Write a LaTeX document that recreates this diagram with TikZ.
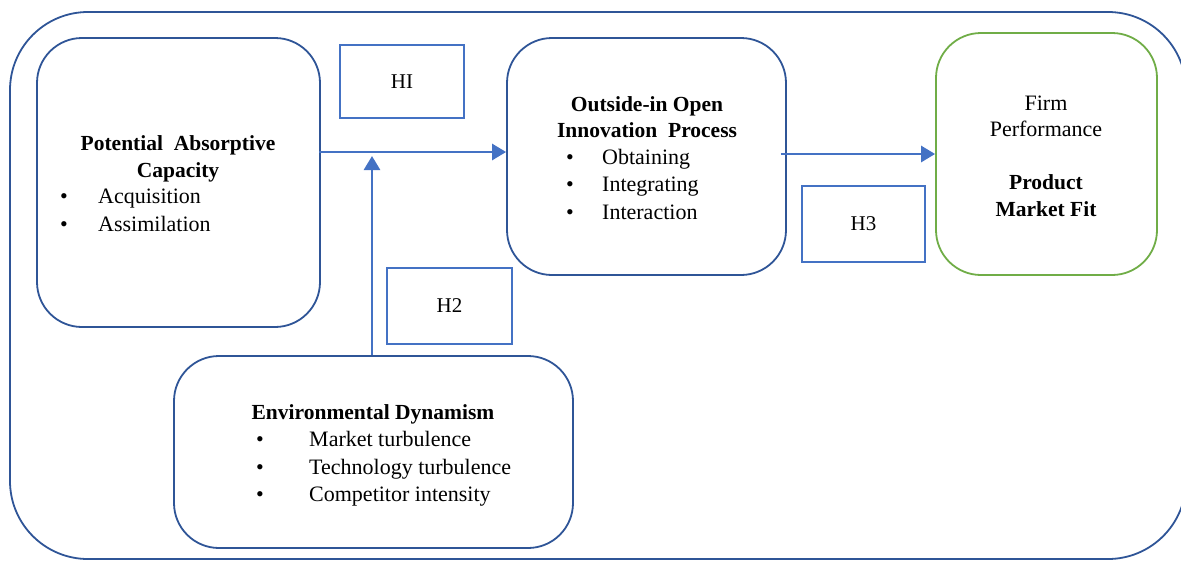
\documentclass[tikz,border=0pt]{standalone}
\usepackage{fontspec}
\setmainfont{Liberation Serif}
\usetikzlibrary{arrows.meta}
\definecolor{bl}{RGB}{68,114,196}
\definecolor{dbl}{RGB}{47,85,151}
\definecolor{gr}{RGB}{112,173,71}
\tikzset{
  bigbox/.style={draw=dbl, line width=1.8pt, rounded corners=45pt, inner sep=0pt},
  greenbox/.style={draw=gr, line width=1.8pt, rounded corners=45pt, inner sep=0pt},
  hbox/.style={draw=bl, line width=1.8pt, inner sep=0pt, font=\fontsize{21}{26}\selectfont},
  txt/.style={anchor=base, inner sep=0pt, font=\fontsize{22}{27}\selectfont},
  btxt/.style={txt, font=\fontsize{21.5}{27}\selectfont\bfseries},
  ltxt/.style={txt, anchor=base west},
  bul/.style={txt},
  arr/.style={draw=bl, line width=2.8pt, -{Triangle[length=14pt,width=16pt]}}
}
\begin{document}
\begin{tikzpicture}[x=1pt,y=-1pt]
\useasboundingbox (0,0) rectangle (1181,560);
% outer frame
\draw[dbl, line width=1.8pt, rounded corners=78pt] (10,12) rectangle (1186,559);

% boxes
\node[bigbox, minimum width=283pt, minimum height=289pt] (pac) at (178.5,182.5) {};
\node[bigbox, minimum width=279pt, minimum height=237pt] (oip) at (646.5,156.5) {};
\node[greenbox, minimum width=221pt, minimum height=242pt] (fp) at (1046.5,154) {};
\node[bigbox, minimum width=399pt, minimum height=192pt] (ed) at (373.5,452) {};
\node[hbox, minimum width=124pt, minimum height=73pt] (h1) at (402,81.5) {HI};
\node[hbox, minimum width=125pt, minimum height=76pt] (h2) at (449.5,306) {H2};
\node[hbox, minimum width=123pt, minimum height=76pt] (h3) at (863.5,224) {H3};

% PAC text
\node[btxt] (pac1) at (178,150) {Potential\ \ Absorptive};
\node[btxt] (pac2) at (178,177) {Capacity};
\node[bul] (pacb1) at (64,203) {\textbullet};
\node[ltxt] (pact1) at (98,203) {Acquisition};
\node[bul] (pacb2) at (64,231) {\textbullet};
\node[ltxt] (pact2) at (98,231) {Assimilation};

% OIP text
\node[btxt] (oip1) at (647,111) {Outside-in Open};
\node[btxt] (oip2) at (647,137) {Innovation\ \ Process};
\node[bul] (oipb1) at (570,164) {\textbullet};
\node[ltxt] (oipt1) at (602,164) {Obtaining};
\node[bul] (oipb2) at (570,191) {\textbullet};
\node[ltxt] (oipt2) at (602,191) {Integrating};
\node[bul] (oipb3) at (570,219) {\textbullet};
\node[ltxt] (oipt3) at (602,219) {Interaction};

% FP text
\node[txt] (fp1) at (1046,110) {Firm};
\node[txt] (fp2) at (1046,136) {Performance};
\node[btxt] (fp3) at (1046,189) {Product};
\node[btxt] (fp4) at (1046,216) {Market Fit};

% ED text
\node[btxt] (ed1) at (373,419) {Environmental Dynamism};
\node[bul] (edb1) at (260,446) {\textbullet};
\node[ltxt] (edt1) at (309,446) {Market turbulence};
\node[bul] (edb2) at (260,474) {\textbullet};
\node[ltxt] (edt2) at (309,474) {Technology turbulence};
\node[bul] (edb3) at (260,501) {\textbullet};
\node[ltxt] (edt3) at (309,501) {Competitor intensity};

% connectors
\coordinate (y1) at (0,152);
\coordinate (y3) at (0,154);
\coordinate (vx) at (372,156);
\draw[arr] ([xshift=-2pt]pac.east |- y1) -- (oip.west |- y1);
\draw[arr] ([xshift=-6pt]oip.east |- y3) -- (fp.west |- y3);
\draw[arr] (ed.north -| vx) -- (vx);
\end{tikzpicture}
\end{document}
